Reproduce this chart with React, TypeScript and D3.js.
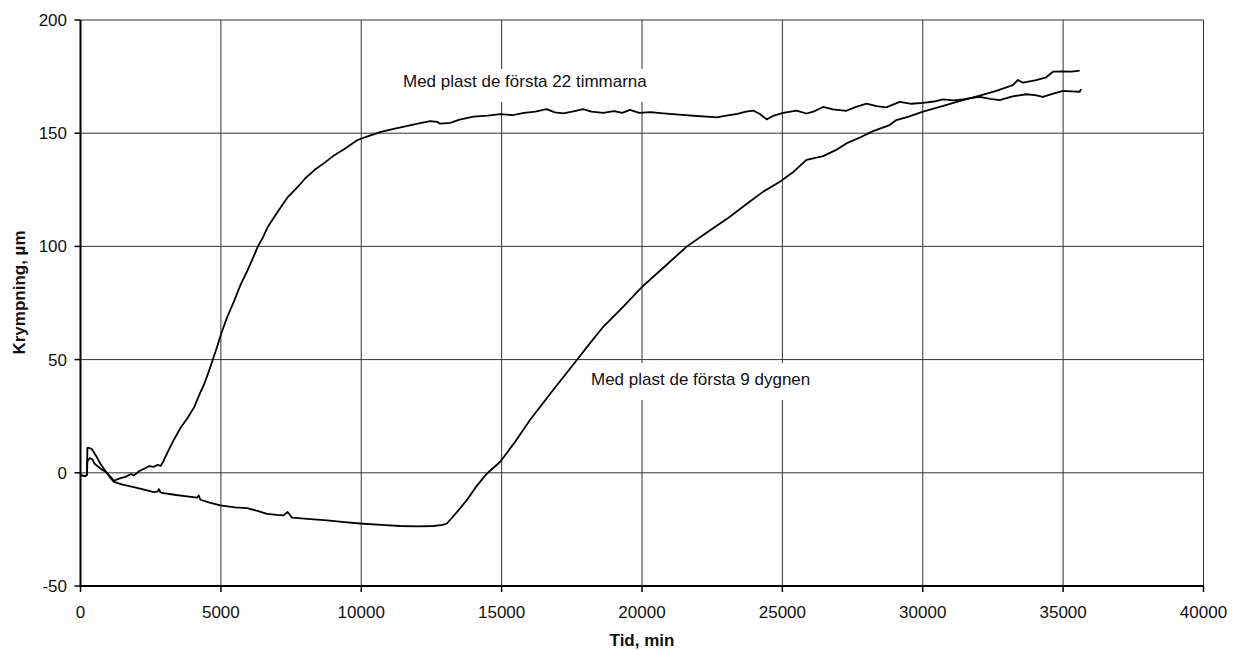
import React from "react";
import * as d3 from "d3";

const xTicks = [0, 5000, 10000, 15000, 20000, 25000, 30000, 35000, 40000];
const yTicks = [-50, 0, 50, 100, 150, 200];

const label22 = "Med plast de första 22 timmarna";
const label9 = "Med plast de första 9 dygnen";
const xTitle = "Tid, min";
const yTitle = "Krympning, µm";

// Med plast de första 22 timmarna: [tid (min), krympning (µm)]
const series22: [number, number][] = [
  [0, -1], [150, -1.5], [230, -1], [245, 5], [330, 6.5], [420, 6], [500, 4], [600, 3], [750, 1.5],
  [900, 0.5], [1050, -1.5], [1190, -3.5], [1400, -2.5], [1600, -1.8], [1800, -0.5], [1900, -1.2],
  [2100, 0.8], [2300, 2], [2450, 3], [2600, 2.6], [2750, 3.5], [2850, 3], [2950, 5], [3100, 9],
  [3300, 14], [3570, 20], [3800, 24], [4050, 29], [4250, 35], [4400, 39], [4550, 44], [4700, 49.6],
  [4850, 55], [5000, 61], [5200, 68], [5475, 76], [5700, 83], [5950, 89.4], [6150, 95], [6310, 99.8],
  [6500, 104], [6670, 108.6], [6900, 113], [7140, 117.4], [7400, 122], [7740, 126.3], [8000, 130],
  [8330, 133.7], [8700, 137], [9040, 140.3], [9400, 143], [9870, 147], [10200, 148.5], [10700, 150.6],
  [11200, 152], [11770, 153.6], [12100, 154.5], [12460, 155.3], [12700, 155], [12810, 154.2],
  [13170, 154.6], [13500, 156], [14000, 157.3], [14500, 157.8], [14950, 158.4], [15400, 158],
  [15800, 159], [16200, 159.5], [16600, 160.6], [16900, 159.2], [17200, 158.8], [17600, 159.8],
  [17900, 160.6], [18200, 159.5], [18620, 159], [19000, 159.8], [19300, 159], [19570, 160.3],
  [19900, 159], [20300, 159.3], [20760, 158.8], [21200, 158.3], [21950, 157.6], [22300, 157.3],
  [22660, 157], [23000, 157.8], [23400, 158.5], [23700, 159.5], [23960, 160], [24200, 158.5],
  [24440, 156.1], [24700, 157.8], [25030, 159], [25500, 160], [25860, 158.7], [26100, 159.5],
  [26450, 161.6], [26800, 160.5], [27280, 159.9], [27600, 161.5], [28000, 163.1], [28350, 162],
  [28700, 161.4], [29180, 163.8], [29600, 163], [30010, 163.4], [30400, 164], [30720, 164.9],
  [31100, 164.5], [31430, 164.9], [31700, 165.5], [32030, 166], [32400, 165.2], [32740, 164.6],
  [33200, 166.3], [33690, 167.2], [34000, 166.8], [34280, 166], [34650, 167.5], [35000, 168.7],
  [35300, 168.5], [35590, 168.3], [35640, 169.5],
];

// Med plast de första 9 dygnen
const series9: [number, number][] = [
  [0, -1], [150, -1.5], [230, -1], [245, 11], [300, 11], [400, 10.5], [470, 9.2], [600, 6.5],
  [710, 4], [850, 1.5], [950, -0.3], [1050, -2], [1190, -4], [1500, -5.2], [1900, -6.3],
  [2300, -7.5], [2610, -8.5], [2750, -8.3], [2790, -7.2], [2850, -8.6], [2900, -8.9], [3400, -9.8],
  [3800, -10.4], [4150, -11], [4210, -10], [4270, -11.9], [4600, -13.2], [4980, -14.4],
  [5500, -15.3], [5930, -15.6], [6300, -16.8], [6640, -18.1], [7000, -18.6], [7230, -18.8],
  [7380, -17.3], [7530, -19.8], [8200, -20.5], [8780, -21], [9400, -21.8], [9960, -22.4],
  [10700, -23], [11390, -23.5], [12000, -23.7], [12570, -23.5], [12900, -23], [13050, -22.4],
  [13400, -17.5], [13760, -12.1], [14100, -6], [14470, -0.4], [14950, 4.9], [15500, 14],
  [16010, 23.3], [16800, 36], [17680, 49.8], [18100, 56.5], [18620, 64.5], [19300, 73],
  [20010, 82.2], [20800, 91], [21590, 99.9], [22300, 106], [23130, 113.1], [23700, 118.5],
  [24320, 124.2], [24910, 128.6], [25400, 133], [25860, 138.2], [26450, 139.9], [26900, 142.5],
  [27280, 145.5], [27800, 148.3], [28230, 150.9], [28820, 153.6], [29060, 155.8], [29500, 157.3],
  [30010, 159.5], [30700, 162], [31430, 164.6], [32000, 166.5], [32620, 168.7], [33210, 171.2],
  [33390, 173.5], [33570, 172.3], [34000, 173.3], [34400, 174.7], [34640, 177.2], [35000, 177.3],
  [35300, 177.2], [35590, 177.6],
];

const W = 1240;
const H = 652;
const FONT = "'Liberation Sans', Arial, Helvetica, sans-serif";

export default function App() {
  const x = d3.scaleLinear().domain([0, 40000]).range([80.5, 1203.5]);
  const y = d3.scaleLinear().domain([-50, 200]).range([586, 20]);
  const line = d3
    .line<[number, number]>()
    .x((d) => x(d[0]))
    .y((d) => y(d[1]));

  return (
    <svg
      width={W}
      height={H}
      style={{ position: "absolute", left: 0, top: 0, display: "block", background: "#fff" }}
      fontFamily={FONT}
    >
      <rect x={0} y={0} width={W} height={H} fill="#fff" />
      {/* grid */}
      {yTicks
        .filter((t) => t !== -50)
        .map((t) => (
          <line key={"gy" + t} x1={x(0)} x2={x(40000)} y1={y(t)} y2={y(t)} stroke="#333" strokeWidth={1} />
        ))}
      {xTicks
        .filter((t) => t !== 0)
        .map((t) => (
          <line key={"gx" + t} x1={x(t)} x2={x(t)} y1={y(200)} y2={y(-50)} stroke="#333" strokeWidth={1} />
        ))}
      {/* label backgrounds */}
      <rect x={396} y={69} width={264} height={33} fill="#fff" />
      <rect x={585} y={363} width={238} height={37} fill="#fff" />
      <text x={403} y={87} fontSize={17} fill="#111">
        {label22}
      </text>
      <text x={591} y={385} fontSize={17} fill="#111">
        {label9}
      </text>
      {/* axes */}
      <line x1={x(0)} x2={x(0)} y1={y(200)} y2={y(-50)} stroke="#000" strokeWidth={2} />
      <line x1={x(0)} x2={x(40000)} y1={y(-50)} y2={y(-50)} stroke="#000" strokeWidth={1.8} />
      {yTicks.map((t) => (
        <g key={"yt" + t}>
          <line x1={x(0) - 6} x2={x(0)} y1={y(t)} y2={y(t)} stroke="#000" strokeWidth={1.5} />
          <text x={67} y={y(t) + 6} fontSize={17} textAnchor="end" fill="#111">
            {t}
          </text>
        </g>
      ))}
      {xTicks.map((t) => (
        <g key={"xt" + t}>
          <line x1={x(t)} x2={x(t)} y1={y(-50)} y2={y(-50) + 6} stroke="#000" strokeWidth={1.5} />
          <text x={x(t)} y={618} fontSize={17} textAnchor="middle" fill="#111">
            {t}
          </text>
        </g>
      ))}
      {/* curves */}
      <path d={line(series9) || ""} fill="none" stroke="#000" strokeWidth={1.8} strokeLinejoin="round" />
      <path d={line(series22) || ""} fill="none" stroke="#000" strokeWidth={1.8} strokeLinejoin="round" />
      {/* titles */}
      <text x={642} y={646} fontSize={17} fontWeight="bold" textAnchor="middle" fill="#111">
        {xTitle}
      </text>
      <text
        transform={`translate(25,292.5) rotate(-90)`}
        fontSize={17}
        fontWeight="bold"
        textAnchor="middle"
        fill="#111"
      >
        {yTitle}
      </text>
    </svg>
  );
}
